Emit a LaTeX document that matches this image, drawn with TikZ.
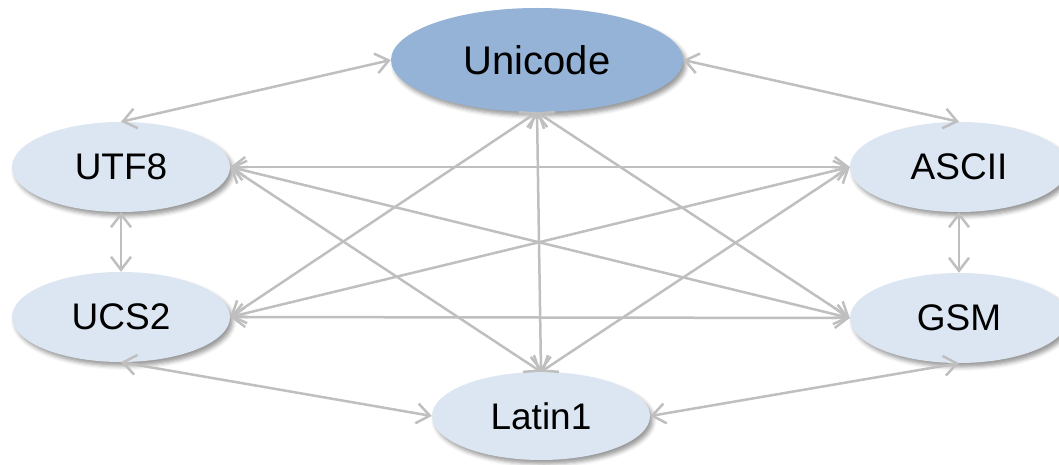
\documentclass[tikz,border=0pt]{standalone}
\usepackage{fontspec}
\setmainfont{Liberation Sans}
\usetikzlibrary{shapes.geometric,arrows.meta,shadows.blur}
\definecolor{hubfill}{HTML}{95B3D7}
\definecolor{encfill}{HTML}{DCE6F2}
\definecolor{linkgray}{HTML}{BFBFBF}
\tikzset{
  enc/.style={ellipse, fill=encfill, inner sep=0pt,
    minimum width=218pt, minimum height=90pt,
    font=\fontsize{37}{40}\selectfont,
    blur shadow={shadow xshift=3pt, shadow yshift=-4pt,
      shadow blur radius=4pt, shadow opacity=40}},
  hub/.style={enc, fill=hubfill, minimum width=292pt, minimum height=104pt,
    font=\fontsize{40}{44}\selectfont},
  link/.style={draw=linkgray, line width=2.5pt,
    {Straight Barb[length=13pt,width=20pt]}-{Straight Barb[length=13pt,width=20pt]}}
}
\begin{document}
\begin{tikzpicture}[x=1pt,y=-1pt]
  \useasboundingbox (0,0) rectangle (1059,465);
  \clip (0,0) rectangle (1059,465);
  % encodings
  \node[hub] (uni) at (537,60) {Unicode};
  \node[enc] (utf) at (121,167) {UTF8};
  \node[enc] (ucs) at (121,317) {UCS2};
  \node[enc] (asc) at (959,167) {ASCII};
  \node[enc] (gsm) at (959,318) {GSM};
  \node[enc, minimum height=88pt] (lat) at (541,416) {Latin1};
  % conversions between the encodings
  \draw[link] (utf.north) -- (uni.west);
  \draw[link] (uni.east) -- (asc.north);
  \draw[link] (uni.south) -- (ucs.east);
  \draw[link] (uni.south) -- (gsm.west);
  \draw[link] (uni.south) -- (lat.north);
  \draw[link] (utf.east) -- (asc.west);
  \draw[link] (utf.east) -- (gsm.west);
  \draw[link] (utf.east) -- (lat.north);
  \draw[link] (ucs.east) -- (asc.west);
  \draw[link] (ucs.east) -- (gsm.west);
  \draw[link] (asc.west) -- (lat.north);
  \draw[link] (utf.south) -- (ucs.north);
  \draw[link] (asc.south) -- (gsm.north);
  \draw[link] (ucs.south) -- (lat.west);
  \draw[link] (gsm.south) -- (lat.east);
\end{tikzpicture}
\end{document}
